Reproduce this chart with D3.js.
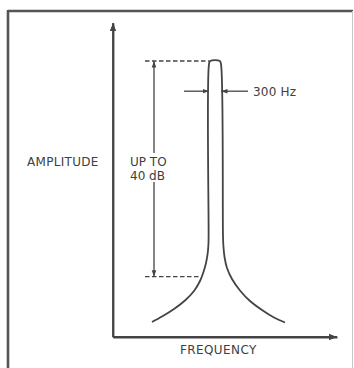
<!DOCTYPE html>
<html>
<head>
<meta charset="utf-8">
<script src="https://cdn.jsdelivr.net/npm/d3@7/dist/d3.min.js"></script>
<style>
  html, body { margin: 0; padding: 0; background: #fff; }
  svg { display: block; }
  text { font-family: "DejaVu Sans", sans-serif; fill: #404040; }
</style>
</head>
<body>
<svg id="chart" width="354" height="368"></svg>
<script>
// Filter response: frequency (Hz) and level (dB, relative to the skirt reference)
const respFreq  = [975, 1225, 1525, 1800, 2025, 2175, 2262, 2325, 2365, 2385, 2390, 2400, 2430,
                   2670, 2700, 2750, 2760, 2788, 2850, 2975, 3175, 3425, 3725, 4025, 4300];
const respLevel = [-8.42, -7.40, -6.00, -4.43, -2.67, -0.81, 0.86, 2.53, 4.20, 5.87, 7.72, 39.4, 40,
                   40, 39.4, 7.54, 5.68, 3.64, 1.6, -0.44, -2.57, -4.52, -6.19, -7.58, -8.51];

// Annotated quantities
const peakLevel = 40;        // "UP TO 40 dB"
const skirtLevel = 0;
const bandwidthHz = 300;     // "300 Hz"
const bandLow = 2400;
const bandHigh = bandLow + bandwidthHz;
const markerLevel = 34.4;
const dimFreq = 1025;
const dashStart = 800;
const skirtCross = 2218;

// Labels
const yTitle = "AMPLITUDE";
const xTitle = "FREQUENCY";
const bwLabel = "300 Hz";
const levelLabel = ["UP TO", "40 dB"];

const svg = d3.select("#chart");
const ink = "#444";

const x = d3.scaleLinear().domain([0, 5600]).range([113, 337]);
const y = d3.scaleLinear().domain([-11.2, 47.05]).range([337, 23]);

// Frame
svg.append("line").attr("x1", 8).attr("y1", 11).attr("x2", 353).attr("y2", 11)
  .attr("stroke", "#555").attr("stroke-width", 2.4);
svg.append("line").attr("x1", 8).attr("y1", 10).attr("x2", 8).attr("y2", 368)
  .attr("stroke", "#555").attr("stroke-width", 2.6);
svg.append("line").attr("x1", 352.5).attr("y1", 11).attr("x2", 352.5).attr("y2", 368)
  .attr("stroke", "#c8c8c8").attr("stroke-width", 1);

// Arrowhead markers
const defs = svg.append("defs");
defs.append("marker").attr("id", "axisHead")
  .attr("viewBox", "0 0 10 10").attr("refX", 10).attr("refY", 5)
  .attr("markerWidth", 4.5).attr("markerHeight", 4.5)
  .attr("markerUnits", "strokeWidth").attr("orient", "auto")
  .append("path").attr("d", "M0,1 L10,5 L0,9 Z").attr("fill", ink);
defs.append("marker").attr("id", "dimHead")
  .attr("viewBox", "0 0 10 10").attr("refX", 10).attr("refY", 5)
  .attr("markerWidth", 5).attr("markerHeight", 5)
  .attr("markerUnits", "strokeWidth").attr("orient", "auto")
  .append("path").attr("d", "M0,1.5 L10,5 L0,8.5 Z").attr("fill", ink);

// Axes: plain lines with arrowheads, no ticks
const yAxis = svg.append("g").attr("transform", `translate(${x(0)},0)`)
  .call(d3.axisLeft(y).ticks(0).tickSize(0).tickSizeOuter(0));
yAxis.select(".domain").attr("stroke", ink).attr("stroke-width", 1.8);
svg.append("line").attr("x1", x(0)).attr("x2", x(0))
  .attr("y1", y(-11.2)).attr("y2", y(47.05))
  .attr("stroke", ink).attr("stroke-width", 1.8).attr("marker-end", "url(#axisHead)");

const xAxis = svg.append("g").attr("transform", `translate(0,${y(-11.2)})`)
  .call(d3.axisBottom(x).ticks(0).tickSize(0).tickSizeOuter(0));
xAxis.select(".domain").attr("stroke", ink).attr("stroke-width", 1.8);
svg.append("line").attr("x1", x(0)).attr("x2", x(5600))
  .attr("y1", y(-11.2)).attr("y2", y(-11.2))
  .attr("stroke", ink).attr("stroke-width", 1.8).attr("marker-end", "url(#axisHead)");

// Response curve
const pts = respFreq.map((f, i) => [f, respLevel[i]]);
const line = d3.line().x(d => x(d[0])).y(d => y(d[1])).curve(d3.curveCatmullRom.alpha(0.5));
svg.append("path").attr("d", line(pts))
  .attr("fill", "none").attr("stroke", ink).attr("stroke-width", 1.8)
  .attr("stroke-linejoin", "round");

// Dashed reference levels
svg.append("line").attr("x1", x(dashStart)).attr("x2", x(bandLow))
  .attr("y1", y(peakLevel)).attr("y2", y(peakLevel))
  .attr("stroke", ink).attr("stroke-width", 1.3).attr("stroke-dasharray", "4.5,2.5");
svg.append("line").attr("x1", x(dashStart)).attr("x2", x(skirtCross))
  .attr("y1", y(skirtLevel)).attr("y2", y(skirtLevel))
  .attr("stroke", ink).attr("stroke-width", 1.3).attr("stroke-dasharray", "4.5,2.5");

// Level dimension line with a gap for the label
const gapTop = 153, gapBottom = 182;
svg.append("line").attr("x1", x(dimFreq)).attr("x2", x(dimFreq))
  .attr("y1", gapTop).attr("y2", y(peakLevel))
  .attr("stroke", ink).attr("stroke-width", 1.3).attr("marker-end", "url(#dimHead)");
svg.append("line").attr("x1", x(dimFreq)).attr("x2", x(dimFreq))
  .attr("y1", gapBottom).attr("y2", y(skirtLevel))
  .attr("stroke", ink).attr("stroke-width", 1.3).attr("marker-end", "url(#dimHead)");

// Bandwidth arrows
svg.append("line").attr("x1", 184).attr("x2", x(bandLow))
  .attr("y1", y(markerLevel)).attr("y2", y(markerLevel))
  .attr("stroke", ink).attr("stroke-width", 1.3).attr("marker-end", "url(#dimHead)");
svg.append("line").attr("x1", 248).attr("x2", x(bandHigh))
  .attr("y1", y(markerLevel)).attr("y2", y(markerLevel))
  .attr("stroke", ink).attr("stroke-width", 1.3).attr("marker-end", "url(#dimHead)");

// Text
svg.append("text").attr("x", 253).attr("y", y(markerLevel) + 4.5)
  .attr("font-size", 12).attr("letter-spacing", 0.2).text(bwLabel);
svg.append("text").attr("x", 27).attr("y", 165.5).attr("font-size", 12)
  .attr("letter-spacing", 0.3).text(yTitle);
svg.append("text").attr("x", 130).attr("y", 165.5).attr("font-size", 12).text(levelLabel[0]);
svg.append("text").attr("x", 130).attr("y", 180).attr("font-size", 12).text(levelLabel[1]);
svg.append("text").attr("x", 180).attr("y", 353.5).attr("font-size", 12)
  .attr("letter-spacing", 0.4).text(xTitle);
</script>
</body>
</html>
